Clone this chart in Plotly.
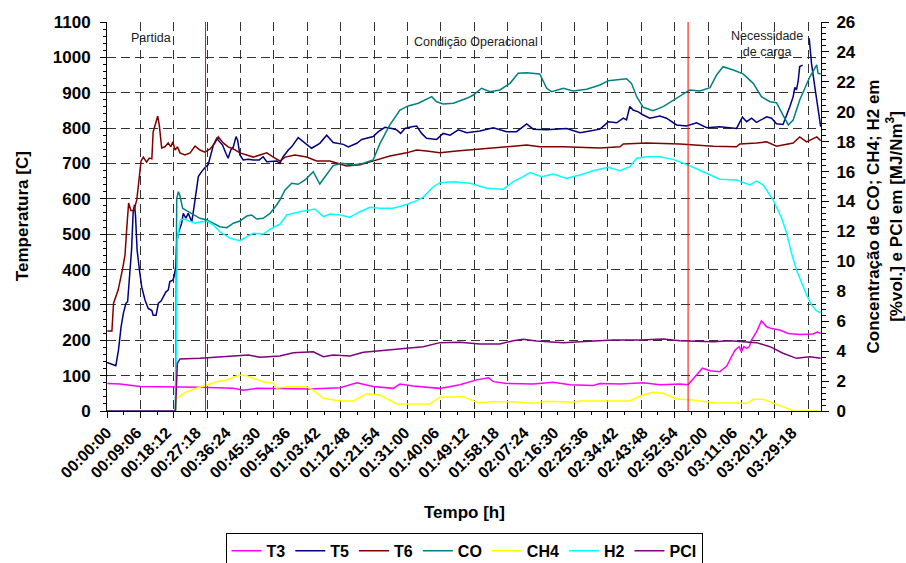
import plotly.graph_objects as go

# ---------------- data (time in minutes from start) ----------------
T3_t = [0.1, 4.0, 10.1, 18.2, 28.4, 38.6, 41.6, 45.7, 52.8, 62.0, 71.2, 76.3, 81.3, 87.4, 89.5,
        93.5, 101.7, 107.8, 112.9, 116.5, 118.0, 122.1, 130.2, 136.3, 141.4, 148.5, 150.6, 156.7,
        163.8, 168.9, 175.0, 177.5, 179.6, 181.9, 184.2, 187.2, 189.3, 191.8, 193.1, 193.8, 194.5,
        195.4, 196.2, 196.9, 198.4, 199.9, 201.5, 203.0, 205.5, 208.1, 211.6, 215.7, 216.9, 218.0]
T3_v = [78, 76, 69, 69, 67, 64, 59, 64, 64, 62, 66, 80, 69, 64, 76,
        71, 64, 74, 88, 94, 83, 78, 76, 81, 74, 72, 78, 76,
        80, 74, 76, 74, 97, 121, 114, 111, 127, 172, 182, 168, 182,
        177, 182, 201, 224, 255, 238, 233, 229, 219, 216, 218, 223, 220]

T5_t = [0, 1.9, 2.7, 3.5, 4.3, 5.0, 5.8, 6.3, 7.0, 7.5, 8.0, 8.4, 8.7, 9.2, 9.9, 10.6, 11.6, 12.6,
        13.7, 14.1, 15.0, 15.7, 16.5, 17.2, 18.0, 18.7, 19.2, 20.1, 20.5, 21.0, 21.3, 21.8, 22.8,
        23.3, 24.1, 24.8, 25.9, 26.6, 27.2, 27.9, 28.9, 29.6, 30.2, 30.9, 31.5, 32.5, 33.5, 34.3,
        35.3, 36.3, 37.0, 37.8, 38.6, 39.4, 39.9, 40.6, 41.6, 43.2, 44.7, 46.5, 47.7, 48.8, 50.3,
        51.8, 52.8, 53.8, 55.4, 56.4, 58.4, 60.0, 62.5, 65.0, 67.1, 69.1, 70.6, 72.2, 73.7, 76.3,
        77.8, 79.3, 81.3, 82.9, 84.9, 87.0, 88.5, 89.7, 91.0, 93.1, 94.6, 96.1, 97.6, 100.7, 102.7,
        104.8, 107.3, 109.9, 113.9, 118.0, 122.1, 125.1, 128.2, 130.2, 134.3, 140.4, 144.5, 147.5,
        150.6, 152.1, 153.1, 155.7, 157.7, 158.7, 159.7, 160.7, 162.3, 163.8, 165.8, 168.9, 170.9,
        174.0, 177.0, 180.1, 183.2, 187.2, 192.3, 194.1, 195.4, 196.9, 198.4, 201.5, 203.0, 204.5,
        206.5, 208.6, 209.6, 210.1, 210.6, 211.1, 211.6, 212.5, 213.5, 214.5, 215.2, 216.2, 217.2,
        218.0]
T5_v = [137, 130, 128, 172, 238, 276, 305, 309, 399, 455, 563, 583, 554, 455, 399, 351, 314, 290,
        284, 271, 271, 305, 311, 323, 337, 342, 366, 370, 380, 408, 474, 503, 531,
        559, 545, 559, 535, 578, 625, 663, 677, 686, 691, 696, 719, 752, 771, 762,
        752, 729, 715, 738, 747, 776, 766, 724, 710, 712, 710, 710, 719, 705, 705,
        707, 700, 719, 738, 747, 773, 762, 743, 757, 780, 759, 757, 754, 747, 757,
        768, 771, 776, 790, 802, 799, 795, 785, 799, 804, 806, 785, 771, 768, 785,
        780, 795, 787, 792, 801, 790, 790, 812, 797, 795, 799, 787, 792,
        797, 809, 818, 815, 828, 823, 861, 851, 846, 837, 828, 834, 828,
        809, 806, 815, 801, 804, 799, 831, 818, 828, 816, 832, 828, 812,
        810, 861, 889, 915, 908, 931, 974, 978, None, 1054, 983, 917, 851,
        804]

T6_t = [0.1, 1.5, 2.0, 3.4, 4.7, 5.5, 5.9, 6.6, 7.3, 8.2, 9.1, 9.9, 10.4, 11.1, 12.1, 12.9, 13.7,
        14.1, 15.0, 15.5, 16.0, 16.7, 17.7, 18.7, 19.5, 20.1, 20.8, 21.5, 22.3, 23.8, 25.4, 26.9,
        28.4, 29.9, 31.5, 33.0, 34.0, 35.5, 37.0, 38.6, 40.6, 42.7, 44.7, 46.7, 48.8, 50.8, 52.8,
        54.4, 57.4, 61.0, 64.0, 68.1, 73.2, 77.3, 81.3, 86.4, 91.5, 94.6, 97.6, 101.7, 106.8,
        113.9, 122.1, 128.2, 132.2, 139.4, 150.6, 156.7, 157.7, 164.8, 175.0, 185.2, 192.3, 193.3,
        198.4, 201.5, 204.5, 209.6, 211.6, 213.7, 216.8, 218.0]
T6_v = [226, 226, 305, 342, 399, 441, 498, 588, 567, 567, 597, 659, 707, 718, 704, 715, 713,
        789, 823, 834, 806, 744, 747, 758, 747, 761, 738, 747, 730, 724, 730, 749,
        738, 732, 741, 758, 775, 758, 747, 741, 730, 724, 718, 724, 730, 718, 707,
        718, 724, 718, 707, 707, 693, 696, 707, 721, 730, 738, 735, 730, 735,
        741, 747, 752, 747, 747, 744, 747, 755, 758, 755, 749, 747, 755,
        758, 761, 749, 758, 775, 761, 775, 764]

CO_t = [0, 20.9, 21.3, 21.8, 22.3, 23.1, 24.3, 26.4, 28.4, 30.5, 32.5, 34.5, 36.6, 38.6, 40.6,
        42.7, 44.2, 45.7, 47.7, 49.8, 51.8, 52.8, 54.4, 56.4, 58.4, 60.5, 63.0, 64.0, 65.0, 66.6,
        69.1, 71.7, 75.2, 78.3, 81.3, 83.4, 86.4, 89.5, 92.0, 95.1, 97.6, 99.2, 100.7, 102.7, 105.8,
        109.9, 111.9, 114.4, 117.0, 120.0, 123.1, 125.6, 128.2, 132.2, 134.3, 135.8, 139.4, 142.4,
        146.5, 150.6, 153.1, 156.7, 158.7, 160.2, 161.8, 163.8, 166.8, 169.9, 174.0, 178.0, 181.1,
        184.2, 186.2, 188.2, 191.3, 194.3, 197.4, 199.9, 202.5, 204.5, 206.5, 208.1, 209.6, 211.6,
        214.7, 216.8, 217.2, 218.0]
CO_v = [0, 0, 14.2, 14.66, 14.37, 13.55, 13.39, 13.10, 12.88, 12.77, 12.55, 12.32, 12.25, 12.55, 12.70,
        13.03, 13.10, 12.83, 12.88, 13.21, 13.77, 14.10, 14.77, 15.22, 15.15, 15.44, 15.99, 15.55, 15.17, 15.66,
        16.40, 16.56, 16.44, 16.56, 16.78, 17.89, 19.12, 20.12, 20.39, 20.57, 20.83, 21.01, 20.67, 20.52, 20.57,
        20.90, 21.12, 21.57, 21.34, 21.46, 21.90, 22.57, 22.61, 22.53, 21.57, 21.34, 21.57, 21.39,
        21.50, 21.79, 22.08, 22.17, 22.21, 21.90, 21.01, 20.30, 20.07, 20.34, 20.90, 21.46, 21.39,
        21.61, 22.46, 23.01, 22.79, 22.53, 21.90, 21.01, 20.67, 20.61, 19.78, 19.12, 19.45, 20.79,
        22.34, 23.13, 22.57, 22.53]

CH4_t = [0, 21.0, 21.3, 24.3, 27.4, 30.4, 33.5, 36.6, 39.6, 41.1, 42.7, 44.7, 47.7, 50.8, 51.8,
         54.9, 56.9, 61.0, 63.0, 66.1, 71.2, 75.2, 79.3, 83.4, 88.5, 98.6, 101.7, 108.8, 113.4,
         118.0, 124.1, 130.2, 134.3, 142.4, 144.5, 159.7, 162.8, 166.8, 169.9, 174.0, 179.1,
         185.2, 195.4, 197.4, 200.4, 204.5, 208.6, 209.6, 218.0]
CH4_v = [0, 0, 0.85, 1.29, 1.52, 1.74, 1.96, 2.07, 2.34, 2.41, 2.36, 2.19, 1.96, 1.85, 1.52,
         1.62, 1.62, 1.62, 1.40, 0.85, 0.67, 0.67, 1.14, 1.07, 0.47, 0.47, 0.92, 0.96, 0.55,
         0.62, 0.62, 0.51, 0.65, 0.58, 0.67, 0.67, 1.00, 1.25, 1.18, 0.80, 0.74,
         0.55, 0.51, 0.78, 0.78, 0.47, 0.11, 0, 0]

H2_t = [0, 20.95, 21.5, 22.4, 23.8, 25.4, 26.9, 28.4, 30.5, 32.5, 34.5, 37.6, 40.6, 42.7, 44.7,
        47.7, 50.8, 52.8, 54.9, 58.9, 62.0, 63.5, 66.1, 68.1, 71.2, 74.2, 77.3, 80.3, 83.4, 87.4,
        91.5, 94.6, 96.6, 99.7, 101.7, 105.8, 110.9, 116.0, 121.0, 124.1, 127.1, 129.2, 132.8,
        136.3, 140.4, 144.5, 148.5, 153.1, 156.7, 159.7, 161.8, 164.8, 168.9, 172.9, 177.5,
        182.1, 187.2, 192.3, 196.4, 198.4, 200.4, 203.5, 206.1, 207.6, 209.1, 210.6, 212.2,
        213.7, 215.2, 216.7, 218.0]
H2_v = [0, 0, 11.5, 12.77, 12.81, 12.65, 12.55, 12.63, 12.70, 12.43, 11.98, 11.54, 11.38, 11.65, 11.88,
        11.83, 12.28, 12.48, 13.10, 13.32, 13.43, 13.50, 12.99, 13.17, 13.10, 12.95, 13.32, 13.62, 13.55, 13.55,
        13.80, 14.06, 14.30, 14.99, 15.26, 15.33, 15.22, 14.89, 14.82, 15.33, 15.66, 15.93, 15.66,
        15.84, 15.55, 15.77, 16.06, 16.29, 16.06, 16.33, 16.89, 17.00, 17.00, 16.82, 16.44,
        15.99, 15.49, 15.44, 15.11, 15.37, 15.11, 14.10, 12.88, 11.88, 10.54, 9.42, 8.54,
        7.75, 7.09, 6.70, 6.57]

PCI_t = [0, 20.9, 21.5, 22.3, 28.4, 33.5, 38.6, 43.2, 46.7, 52.8, 56.9, 63.0, 66.1, 69.1, 74.2,
         78.3, 83.4, 88.5, 96.6, 101.7, 107.8, 113.9, 120.0, 124.1, 127.1, 131.2, 139.4, 144.5,
         154.6, 162.8, 169.9, 175.0, 185.2, 190.3, 198.4, 202.5, 206.5, 210.6, 214.7, 218.0]
PCI_v = [0, 0, 3.19, 3.48, 3.52, 3.59, 3.63, 3.74, 3.59, 3.68, 3.90, 3.96, 3.63, 3.74, 3.68,
         3.92, 4.03, 4.14, 4.30, 4.57, 4.59, 4.48, 4.48, 4.70, 4.79, 4.68, 4.57, 4.63,
         4.75, 4.75, 4.81, 4.70, 4.63, 4.70, 4.57, 4.30, 3.86, 3.52, 3.63, 3.52]

# phase markers (minutes) and tick labels
EVENT_TIMES = [30.1, 177.5]
TICK_LABELS = ["00:00:00", "00:09:06", "00:18:12", "00:27:18", "00:36:24", "00:45:30",
               "00:54:36", "01:03:42", "01:12:48", "01:21:54", "01:31:00", "01:40:06",
               "01:49:12", "01:58:18", "02:07:24", "02:16:30", "02:25:36", "02:34:42",
               "02:43:48", "02:52:54", "03:02:00", "03:11:06", "03:20:12", "03:29:18"]
X_END = 218.1
GRID_STEP = 10.2

for a, b in [(T3_t, T3_v), (T5_t, T5_v), (T6_t, T6_v), (CO_t, CO_v), (CH4_t, CH4_v),
             (H2_t, H2_v), (PCI_t, PCI_v)]:
    assert len(a) == len(b), (len(a), len(b))


def to_min(s):
    h, m, sec = (int(p) for p in s.split(":"))
    return h * 60 + m + sec / 60.0


tick_vals = [to_min(s) for s in TICK_LABELS]

FONT = "Liberation Sans, Arial, sans-serif"
series = [
    ("T3", T3_t, T3_v, "#FF00FF", "y"),
    ("T5", T5_t, T5_v, "#000080", "y"),
    ("T6", T6_t, T6_v, "#800000", "y"),
    ("CO", CO_t, CO_v, "#008080", "y2"),
    ("CH4", CH4_t, CH4_v, "#FFFF00", "y2"),
    ("H2", H2_t, H2_v, "#00FFFF", "y2"),
    ("PCI", PCI_t, PCI_v, "#800080", "y2"),
]

fig = go.Figure()
for name, t, v, col, ax in series:
    fig.add_trace(go.Scatter(x=t, y=v, name=name, mode="lines", yaxis=ax, xaxis="x",
                             line=dict(color=col, width=1.5), connectgaps=False,
                             hoverinfo="skip"))
# empty helper trace so the label axis is drawn
fig.add_trace(go.Scatter(x=[None], y=[None], xaxis="x2", yaxis="y", showlegend=False,
                         hoverinfo="skip"))

GRID = dict(showgrid=True, gridcolor="#333333", gridwidth=1, griddash="9px,5px")

fig.update_layout(
    width=906, height=563,
    margin=dict(l=107, r=85, t=22, b=152, autoexpand=False),
    paper_bgcolor="white", plot_bgcolor="white",
    font=dict(family=FONT, color="black"),
    xaxis=dict(range=[0, X_END], tick0=0, dtick=GRID_STEP, showticklabels=False,
               ticks="outside", ticklen=6, tickcolor="black", tickwidth=1, automargin=False,
               showline=True, linecolor="black", linewidth=1, zeroline=False,
               minor=dict(tick0=0, dtick=GRID_STEP / 2, ticks="outside", ticklen=3,
                          tickcolor="black", showgrid=False),
               **GRID),
    xaxis2=dict(overlaying="x", anchor="y", side="bottom", range=[0, X_END],
                tickmode="array", tickvals=tick_vals, ticktext=TICK_LABELS, automargin=False,
                tickangle=-45, tickfont=dict(size=16, weight="bold", family=FONT),
                ticks="outside", ticklen=5, tickcolor="rgba(0,0,0,0)",
                showgrid=False, showline=False, zeroline=False),
    yaxis=dict(range=[0, 1100], tick0=0, dtick=100, ticks="outside", ticklen=6,
               tickcolor="black", showline=True, linecolor="black", linewidth=1,
               zeroline=False, ticklabelstandoff=6, automargin=False,
               tickfont=dict(size=17, weight="bold", family=FONT),
               minor=dict(tick0=0, dtick=20, ticks="outside", ticklen=3, tickcolor="black",
                          showgrid=False),
               **GRID),
    yaxis2=dict(overlaying="y", side="right", anchor="x", range=[0, 26], tick0=0, dtick=2,
                ticks="outside", ticklen=7, tickcolor="black", showline=True,
                linecolor="black", linewidth=1, zeroline=False, showgrid=False,
                ticklabelstandoff=4, automargin=False,
                tickfont=dict(size=17, weight="bold", family=FONT),
                minor=dict(tick0=0, dtick=0.4, ticks="outside", ticklen=4, tickcolor="black",
                           showgrid=False)),
    legend=dict(orientation="h", x=0.5, xanchor="center", y=-0.313, yanchor="top",
                bordercolor="black", borderwidth=1, bgcolor="white",
                font=dict(size=16, weight="bold", family=FONT), tracegroupgap=0),
    showlegend=True,
)

for t in EVENT_TIMES:
    fig.add_shape(type="line", xref="x", yref="paper", x0=t, x1=t, y0=0, y1=1,
                  line=dict(color="#FF0000", width=1), layer="above")

ann_font = dict(size=12.5, family=FONT, color="#222222")
for txt, ax_, ay_ in [("Partida", 0.0619, 0.958),
                      ("Condição Operacional", 0.517, 0.948),
                      ("Necessidade<br>de carga", 0.925, 0.943)]:
    fig.add_annotation(text=txt, xref="paper", yref="paper", x=ax_, y=ay_,
                       xanchor="center", yanchor="middle", showarrow=False, font=ann_font)

title_font = dict(size=17, weight="bold", family=FONT, color="black")
fig.add_annotation(text="Temperatura [C]", xref="paper", yref="paper", x=-0.119, y=0.501,
                   textangle=-90, showarrow=False, font=title_font,
                   xanchor="center", yanchor="middle")
fig.add_annotation(text="Concentração de CO; CH4; H2 em<br>[%vol.] e PCI em [MJ/Nm<sup>3</sup>]",
                   xref="paper", yref="paper", x=1.0896, y=0.5, textangle=-90,
                   showarrow=False, font=title_font, xanchor="center", yanchor="middle")
fig.add_annotation(text="Tempo [h]", xref="paper", yref="paper", x=0.5, y=-0.262,
                   showarrow=False, font=title_font, xanchor="center", yanchor="middle")

fig.write_html("out.html")
